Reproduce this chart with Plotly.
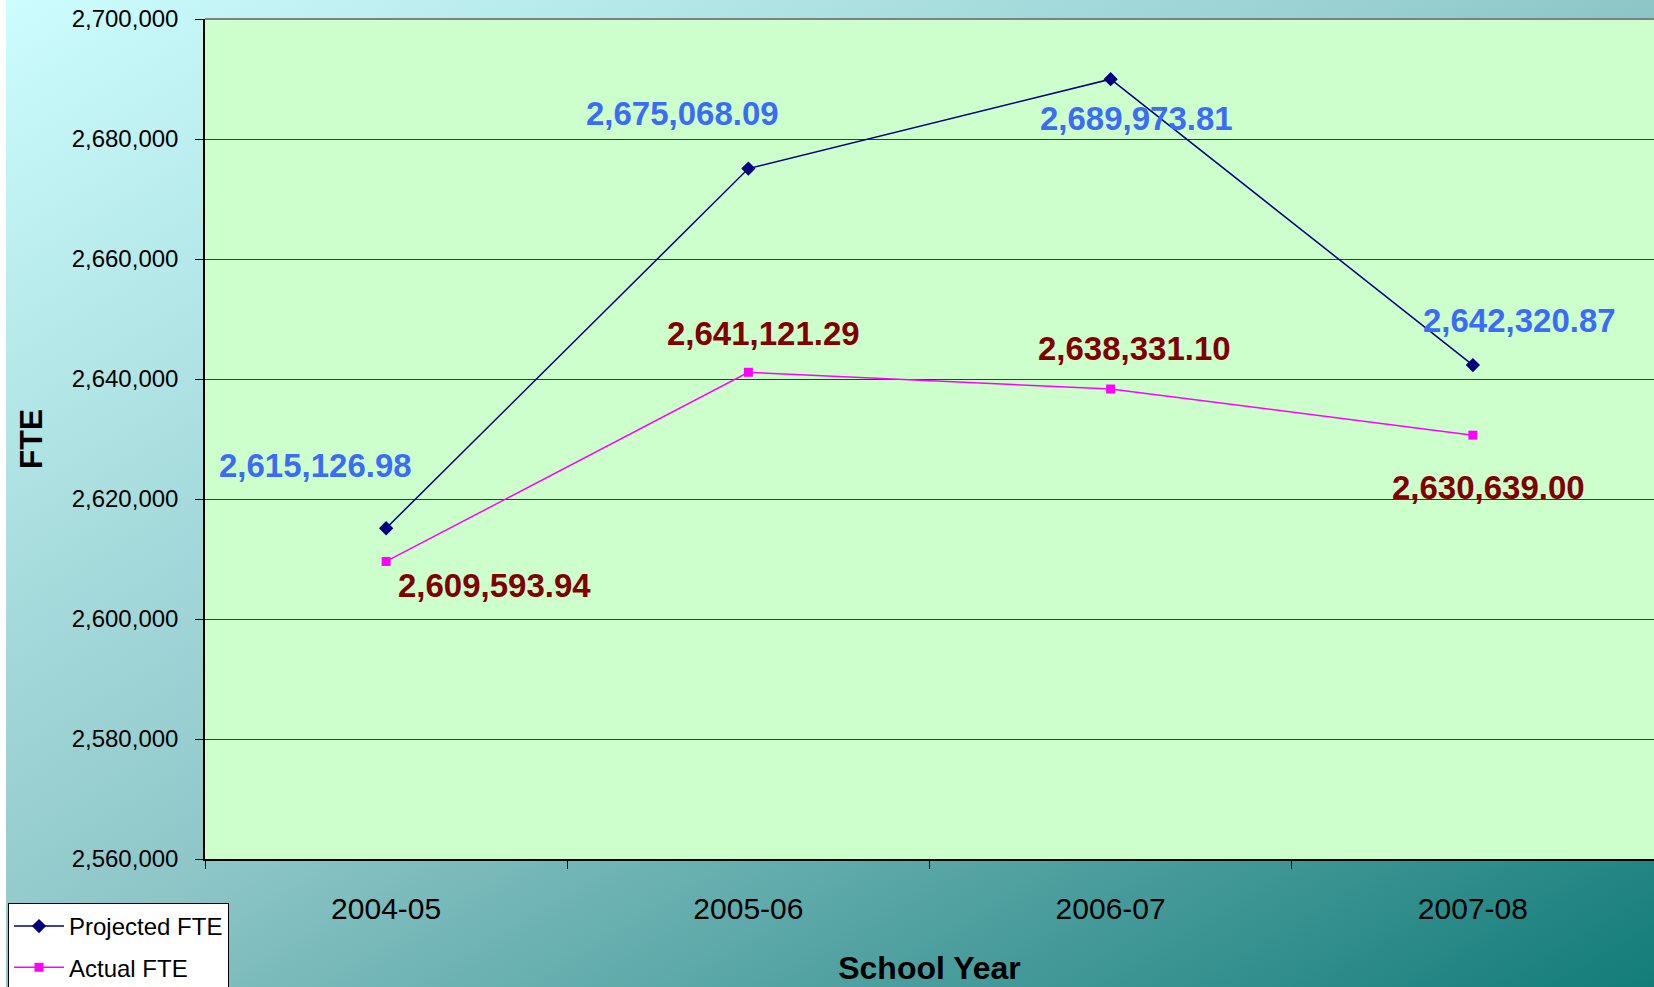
import base64
import plotly.graph_objects as go

years = ["2004-05", "2005-06", "2006-07", "2007-08"]
projected = [2615126.98, 2675068.09, 2689973.81, 2642320.87]
actual = [2609593.94, 2641121.29, 2638331.10, 2630639.00]
y_ticks = [2560000, 2580000, 2600000, 2620000, 2640000, 2660000, 2680000, 2700000]

W, H = 1654, 987
L, R, T, B = 205, 0, 19, 128
pw, ph = W - L - R, H - T - B

FONT = "Arial, Liberation Sans, sans-serif"

svg = (
    '<svg xmlns="http://www.w3.org/2000/svg" width="1648" height="987" preserveAspectRatio="none">'
    '<defs><linearGradient id="g" x1="0" y1="0" x2="1" y2="1">'
    '<stop offset="0" stop-color="#cdfdfe"/>'
    '<stop offset="0.5" stop-color="#8ec6c8"/>'
    '<stop offset="1" stop-color="#137c79"/>'
    '</linearGradient></defs>'
    '<rect width="1648" height="987" fill="url(#g)"/></svg>'
)
src = "data:image/svg+xml;base64," + base64.b64encode(svg.encode()).decode()

fig = go.Figure()
fig.add_trace(go.Scatter(
    x=years, y=projected, name="Projected FTE", mode="lines+markers", legendgroup="p",
    line=dict(color="#000080", width=1.5),
    marker=dict(symbol="diamond", size=11, color="#000080"),
))
fig.add_trace(go.Scatter(
    x=years, y=actual, name="Actual FTE", mode="lines+markers", legendgroup="a",
    line=dict(color="#ff00ff", width=1.5),
    marker=dict(symbol="square", size=9, color="#ff00ff"),
))

proj_shift = [(-71, 63), (-66, 55), (26, -39), (47, 45)]
act_shift = [(108, -24), (15, 39), (24, 41), (16, -52)]
for i, yr in enumerate(years):
    fig.add_annotation(x=yr, y=projected[i], text=f"{projected[i]:,.2f}", showarrow=False,
                       xshift=proj_shift[i][0], yshift=proj_shift[i][1],
                       font=dict(family=FONT, size=33, color="#3c6cf4", weight="bold"))
    fig.add_annotation(x=yr, y=actual[i], text=f"{actual[i]:,.2f}", showarrow=False,
                       xshift=act_shift[i][0], yshift=act_shift[i][1],
                       font=dict(family=FONT, size=33, color="#800000", weight="bold"))

fig.add_layout_image(
    source=src, xref="paper", yref="paper",
    x=(6 - L) / pw, y=1 + T / ph, sizex=(W - 6) / pw, sizey=H / ph,
    xanchor="left", yanchor="top", sizing="stretch", layer="below",
)
fig.add_shape(type="rect", xref="paper", yref="paper", x0=0, x1=1, y0=0, y1=1,
              fillcolor="#ccffcc", line=dict(width=0), layer="below")

fig.update_layout(
    width=W, height=H,
    margin=dict(l=L, r=R, t=T, b=B, autoexpand=False),
    paper_bgcolor="white", plot_bgcolor="rgba(0,0,0,0)",
    font=dict(family=FONT, color="black"),
    showlegend=True,
    legend=dict(
        x=(8 - L) / pw, y=-(903 - (H - B)) / ph, xanchor="left", yanchor="top",
        bgcolor="white", bordercolor="black", borderwidth=1,
        font=dict(family=FONT, size=24, color="black"),
        traceorder="grouped", tracegroupgap=7, itemwidth=50,
    ),
    xaxis=dict(
        type="category", range=[-0.5, 3.5], tickson="boundaries",
        ticks="outside", ticklen=8, tickcolor="black",
        showline=True, linecolor="black", linewidth=1.5,
        showgrid=False, zeroline=False,
        tickfont=dict(family=FONT, size=30, color="black"),
        ticklabelstandoff=22,
        title=dict(text="School Year", font=dict(family=FONT, size=32, color="black", weight="bold"),
                   standoff=33),
        fixedrange=True,
    ),
    yaxis=dict(
        range=[2560000, 2700000], tickvals=y_ticks, tickformat=",d",
        ticks="outside", ticklen=8, tickcolor="black",
        showline=True, linecolor="black", linewidth=1.5,
        showgrid=True, gridcolor="#3a3a3a", gridwidth=1, zeroline=False,
        tickfont=dict(family=FONT, size=24, color="black"),
        ticklabelstandoff=12,
        title=dict(text="FTE", font=dict(family=FONT, size=32, color="black", weight="bold"),
                   standoff=19),
        fixedrange=True,
    ),
)
fig.add_shape(type="line", xref="paper", yref="paper", x0=0, x1=1, y0=1, y1=1,
              line=dict(color="#808080", width=2))

fig.write_html("out.html", config={"displayModeBar": False},
               post_script="document.body.style.margin='0';")
